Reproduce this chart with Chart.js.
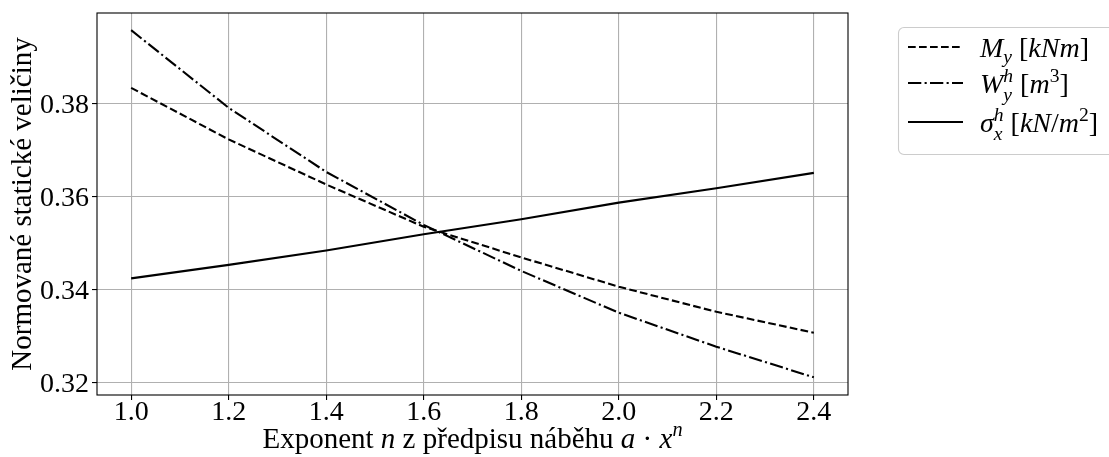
<!DOCTYPE html>
<html>
<head>
<meta charset="utf-8">
<script src="https://cdn.jsdelivr.net/npm/chart.js@4.4.1/dist/chart.umd.min.js"></script>
<style>
  html, body { margin: 0; padding: 0; background: #ffffff; }
  canvas { display: block; }
</style>
</head>
<body>
<canvas id="chart" width="1109" height="457"></canvas>
<script>
// Exponent n of the haunch law a·x^n
const exponents = [1.0, 1.2, 1.4, 1.6, 1.8, 2.0, 2.2, 2.4];

// Normalised static quantities
const momentMy   = [0.3834, 0.3723, 0.3626, 0.3535, 0.3469, 0.3406, 0.3352, 0.3307];
const modulusWy  = [0.3958, 0.3791, 0.3653, 0.3539, 0.3440, 0.3350, 0.3277, 0.3211];
const stressSx   = [0.3424, 0.3453, 0.3484, 0.3519, 0.3551, 0.3587, 0.3618, 0.3651];

// Axis ticks and limits
const xTickValues = [1.0, 1.2, 1.4, 1.6, 1.8, 2.0, 2.2, 2.4];
const yTickValues = [0.32, 0.34, 0.36, 0.38];
const xLimits = [0.93, 2.47];
const yLimits = [0.3173, 0.3995];

// Axis titles
const yTitle = 'Normované statické veličiny';
// rich text pieces: t = text, it = italic, lvl = 0 base / -1 sub / 1 sup, stack = share x with previous
const xTitle = [
  { t: 'Exponent ' },
  { t: 'n', it: true },
  { t: ' z předpisu náběhu ' },
  { t: 'a', it: true },
  { t: ' · ' },
  { t: 'x', it: true },
  { t: 'n', it: true, lvl: 1 }
];

// Legend labels
const legendLabels = [
  [ { t: 'M', it: true }, { t: 'y', it: true, lvl: -1 }, { t: ' [' }, { t: 'kNm', it: true }, { t: ']' } ],
  [ { t: 'W', it: true }, { t: 'y', it: true, lvl: -1, pair: true }, { t: 'h', it: true, lvl: 1, stack: true },
    { t: ' [' }, { t: 'm', it: true }, { t: '3', lvl: 1 }, { t: ']' } ],
  [ { t: 'σ', it: true }, { t: 'x', it: true, lvl: -1, pair: true }, { t: 'h', it: true, lvl: 1, stack: true },
    { t: ' [' }, { t: 'kN', it: true }, { t: '/' }, { t: 'm', it: true }, { t: '2', lvl: 1 }, { t: ']' } ]
];

const FONT = "'Liberation Serif', 'Times New Roman', serif";
const LW = 2.1;
const dashStyles = [[7.7, 3.3], [13.3, 3.3, 2.1, 3.3], []];

function toPoints(ys) {
  return exponents.map((x, i) => ({ x: x, y: ys[i] }));
}

function layoutRich(ctx, segs, size) {
  let x = 0, lastStart = 0, lastW = 0;
  const items = [];
  for (const s of segs) {
    const fs = s.lvl ? size * 0.7 : size;
    const font = (s.it ? 'italic ' : '') + fs + 'px ' + FONT;
    ctx.font = font;
    const w = ctx.measureText(s.t).width;
    let sx;
    if (s.stack) {
      sx = lastStart;
      x = Math.max(lastStart + lastW, sx + w);
      lastW = Math.max(lastW, w);
    } else {
      sx = x;
      x += w;
      lastStart = sx;
      lastW = w;
    }
    let dy = 0;
    if (s.lvl === -1) dy = (s.pair ? 0.30 : 0.20) * size;
    if (s.lvl === 1) dy = -0.40 * size;
    items.push({ t: s.t, font: font, sx: sx, dy: dy });
  }
  return { items: items, width: x };
}

function drawRich(ctx, segs, x, baseline, size, align) {
  const lay = layoutRich(ctx, segs, size);
  const x0 = align === 'center' ? x - lay.width / 2 : x;
  ctx.textBaseline = 'alphabetic';
  ctx.textAlign = 'left';
  for (const it of lay.items) {
    ctx.font = it.font;
    ctx.fillText(it.t, x0 + it.sx, baseline + it.dy);
  }
}

function roundRect(ctx, x, y, w, h, r) {
  ctx.beginPath();
  ctx.moveTo(x + r, y);
  ctx.lineTo(x + w - r, y);
  ctx.arcTo(x + w, y, x + w, y + r, r);
  ctx.lineTo(x + w, y + h - r);
  ctx.arcTo(x + w, y + h, x + w - r, y + h, r);
  ctx.lineTo(x + r, y + h);
  ctx.arcTo(x, y + h, x, y + h - r, r);
  ctx.lineTo(x, y + r);
  ctx.arcTo(x, y, x + r, y, r);
  ctx.closePath();
}

// Axes frame, x-axis title and the legend placed to the right of the plot
const decorations = {
  id: 'decorations',
  afterDraw(chart) {
    const ctx = chart.ctx;
    const a = chart.chartArea;
    ctx.save();

    ctx.strokeStyle = '#000000';
    ctx.lineWidth = 1.1;
    ctx.setLineDash([]);
    ctx.strokeRect(a.left, a.top, a.right - a.left, a.bottom - a.top);

    ctx.fillStyle = '#000000';
    drawRich(ctx, xTitle, (a.left + a.right) / 2, 448, 29, 'center');

    // legend
    const lx = 898.5, ly = 27.5;
    roundRect(ctx, lx, ly, 300, 127, 5.5);
    ctx.fillStyle = 'rgba(255,255,255,0.8)';
    ctx.fill();
    ctx.strokeStyle = '#cccccc';
    ctx.lineWidth = 1.1;
    ctx.stroke();

    const baselines = [57, 93, 132];
    chart.data.datasets.forEach((ds, i) => {
      const yb = baselines[i];
      ctx.strokeStyle = ds.borderColor;
      ctx.lineWidth = ds.borderWidth;
      ctx.setLineDash(ds.borderDash || []);
      ctx.beginPath();
      ctx.moveTo(908, yb - 10);
      ctx.lineTo(963, yb - 10);
      ctx.stroke();
      ctx.setLineDash([]);
      ctx.fillStyle = '#000000';
      drawRich(ctx, legendLabels[i], 980, yb, 28, 'left');
    });
    ctx.restore();
  }
};

Chart.defaults.font.family = FONT;
Chart.defaults.font.size = 28;
Chart.defaults.color = '#000000';

new Chart(document.getElementById('chart'), {
  type: 'line',
  data: {
    datasets: [
      { label: 'M_y [kNm]', data: toPoints(momentMy), borderColor: '#000000', borderWidth: LW, borderDash: dashStyles[0] },
      { label: 'W_y^h [m^3]', data: toPoints(modulusWy), borderColor: '#000000', borderWidth: LW, borderDash: dashStyles[1] },
      { label: 'σ_x^h [kN/m^2]', data: toPoints(stressSx), borderColor: '#000000', borderWidth: LW, borderDash: dashStyles[2] }
    ]
  },
  options: {
    responsive: false,
    animation: false,
    devicePixelRatio: 1,
    layout: { padding: { left: 0, top: 13, right: 261, bottom: 0 } },
    elements: {
      point: { radius: 0, hoverRadius: 0 },
      line: { tension: 0, fill: false, borderCapStyle: 'butt' }
    },
    plugins: {
      legend: { display: false },
      tooltip: { enabled: false }
    },
    scales: {
      x: {
        type: 'linear',
        min: xLimits[0],
        max: xLimits[1],
        afterBuildTicks: (s) => { s.ticks = xTickValues.map(v => ({ value: v })); },
        afterFit: (s) => { s.height = 62; s.paddingLeft = 0; s.paddingRight = 0; },
        ticks: {
          font: { size: 28 },
          padding: -4,
          maxRotation: 0,
          autoSkip: false,
          callback: (v) => Number(v).toFixed(1)
        },
        grid: { color: '#b0b0b0', lineWidth: 1.1, tickColor: '#000000', tickLength: 5, tickWidth: 1.1 },
        border: { display: false },
        title: { display: false }
      },
      y: {
        type: 'linear',
        min: yLimits[0],
        max: yLimits[1],
        afterBuildTicks: (s) => { s.ticks = yTickValues.map(v => ({ value: v })); },
        afterFit: (s) => { s.width = 97; s.paddingTop = 0; s.paddingBottom = 0; },
        ticks: {
          font: { size: 28 },
          padding: 3,
          labelOffset: 2,
          autoSkip: false,
          callback: (v) => Number(v).toFixed(2)
        },
        grid: { color: '#b0b0b0', lineWidth: 1.1, tickColor: '#000000', tickLength: 5, tickWidth: 1.1 },
        border: { display: false },
        title: {
          display: true,
          text: yTitle,
          font: { size: 29 },
          padding: { top: 6, bottom: 0 }
        }
      }
    }
  },
  plugins: [decorations]
});
</script>
</body>
</html>
